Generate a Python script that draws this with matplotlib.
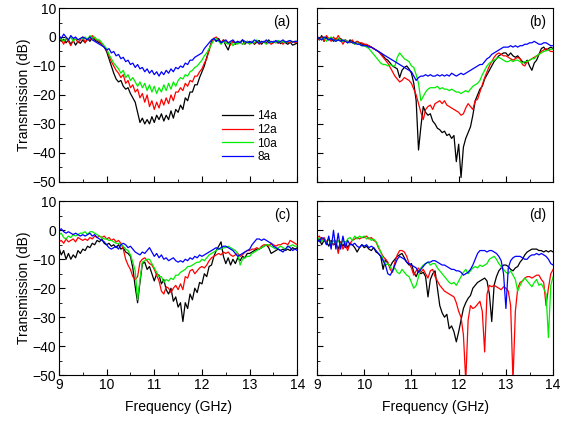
import matplotlib
matplotlib.use('Agg')
import matplotlib.pyplot as plt
import numpy as np

plt.rcParams['font.family'] = ['Liberation Sans', 'DejaVu Sans']

# frequency grid (GHz), 0.05 GHz steps
freq = np.linspace(9, 14, 101)
labels = ['14a', '12a', '10a', '8a']
colors = ['black', 'red', '#00ee00', 'blue']

# ---- panel (a) ----
a_14 = [-0.5, -1.5, -0.8, -2.0, -1.0, -2.5, -1.2, -2.8, -1.5, -2.2,
        -1.0, -2.0, -0.5, -1.5, -0.3, -1.0, -1.5, -2.0, -2.5, -3.5,
        -5.0, -7.5, -10.0, -12.5, -14.5, -15.5, -15.0, -17.0, -18.0, -17.5,
        -19.5, -21.0, -22.5, -26.0, -29.5, -28.0, -30.0, -28.5, -30.0, -27.5,
        -29.5, -27.0, -28.5, -26.5, -29.0, -27.0, -28.5, -25.5, -28.0, -25.0,
        -26.0, -23.5, -25.0, -21.0, -22.0, -19.0, -19.0, -16.5, -16.5, -14.0,
        -12.0, -10.0, -7.0, -4.5, -1.5, -0.5, -1.5, -0.5, -2.0, -1.0,
        -3.0, -4.5, -2.0, -1.5, -2.5, -1.5, -2.0, -1.0, -2.5, -1.5,
        -2.0, -1.5, -2.5, -1.8, -1.2, -2.5, -1.5, -2.0, -1.0, -2.2,
        -1.5, -2.0, -1.2, -2.3, -1.5, -2.0, -2.5, -1.8, -2.8, -2.5,
        -2.0]
a_12 = [-0.5, -1.0, -2.5, -0.5, -1.5, -3.0, -1.0, -0.5, -2.0, -1.0,
        0.0, -2.0, -0.5, -1.0, 0.5, -0.5, -1.0, -1.5, -2.5, -3.5,
        -4.5, -6.5, -8.5, -10.0, -11.5, -12.5, -14.0, -13.0, -16.0, -15.0,
        -17.5, -16.5, -19.0, -18.0, -21.0, -19.5, -22.5, -20.0, -24.0, -22.0,
        -25.0, -22.5, -24.5, -21.5, -23.5, -21.0, -23.0, -20.0, -22.0, -19.0,
        -19.0, -17.5, -18.5, -16.0, -17.0, -15.0, -15.5, -13.5, -13.5, -12.0,
        -11.0, -9.0, -7.5, -4.5, -2.0, -0.5, 0.0, -1.0, -2.0, -1.0,
        -1.5, -2.0, -2.8, -1.5, -2.5, -2.0, -1.5, -2.5, -2.0, -1.5,
        -2.5, -1.8, -2.2, -1.5, -2.5, -2.0, -1.5, -2.3, -1.8, -2.5,
        -2.0, -1.5, -2.2, -1.8, -2.5, -1.5, -2.0, -1.8, -1.5, -2.0,
        -1.5]
a_10 = [-1.0, -0.5, -1.5, -0.5, -1.0, 0.0, -1.5, -0.5, -1.0, -0.5,
        -0.5, 0.0, -1.0, 0.5, -0.5, 0.0, -1.0, -1.0, -2.0, -3.0,
        -4.0, -6.0, -7.5, -9.0, -10.0, -11.0, -12.5, -11.5, -14.0, -13.0,
        -15.0, -14.0, -15.5, -17.0, -15.5, -17.5, -16.0, -18.5, -16.5, -19.0,
        -17.0, -19.5, -17.5, -19.0, -16.5, -18.5, -16.0, -18.0, -15.5, -17.0,
        -15.0, -14.0, -14.5, -13.0, -13.5, -12.0, -11.5, -10.5, -10.0, -9.0,
        -8.0, -6.5, -5.5, -4.0, -2.5, -1.0, -0.5, -1.5, -2.5, -1.5,
        -2.0, -2.5, -1.5, -3.0, -2.0, -2.5, -1.5, -2.5, -2.0, -1.5,
        -2.5, -1.5, -2.0, -1.0, -2.2, -1.5, -1.8, -2.5, -1.5, -2.0,
        -1.5, -2.0, -1.2, -1.8, -1.5, -2.0, -1.5, -1.2, -1.8, -1.5,
        -1.5]
a_8 = [0.5, -0.5, 1.0, 0.0, -1.0, 0.5, -0.5, 0.0, -1.0, -0.5,
       0.0, -0.5, -1.0, 0.0, -1.0, -1.5, -2.0, -2.5, -3.0, -3.5,
       -4.5, -4.0, -5.5, -5.0, -6.5, -6.0, -7.5, -7.0, -8.5, -8.0,
       -9.5, -9.0, -10.5, -9.5, -11.0, -10.5, -12.0, -11.0, -12.5, -11.5,
       -13.0, -12.0, -13.5, -12.0, -13.0, -11.5, -12.5, -11.0, -12.0, -10.5,
       -11.0, -10.0, -10.5, -9.0, -9.5, -8.0, -8.0, -7.0, -6.5, -6.0,
       -5.5, -4.0, -3.0, -2.0, -1.0, -0.5, -1.5, -1.0, -2.0, -1.5,
       -1.0, -2.0, -1.5, -1.0, -2.0, -1.5, -2.0, -1.0, -1.5, -2.0,
       -1.5, -2.0, -1.0, -1.5, -2.2, -1.5, -1.8, -1.0, -2.0, -1.5,
       -1.8, -1.2, -2.0, -1.5, -1.0, -1.8, -1.5, -1.2, -1.8, -1.5,
       -1.5]

# ---- panel (b) ----
b_14 = [0.0, -1.0, 0.5, -1.5, 0.0, -1.0, -0.5, -1.5, -0.5, -1.0,
        -0.5, -1.5, -1.0, -2.0, -1.0, -1.5, -2.0, -1.5, -2.0, -2.5,
        -2.5, -3.0, -3.0, -3.5, -4.0, -4.5, -5.0, -5.5, -6.5, -7.5,
        -8.0, -9.0, -10.0, -10.5, -11.0, -14.0, -11.5, -10.5, -10.0, -11.0,
        -12.5, -16.0, -22.0, -39.0, -31.0, -24.0, -26.0, -27.0, -26.5, -29.0,
        -30.0, -31.5, -32.0, -33.0, -32.5, -34.0, -33.5, -35.0, -34.0, -43.0,
        -37.0, -48.5, -38.0, -35.0, -33.0, -31.0, -27.0, -22.0, -20.0, -18.0,
        -17.0, -14.5, -13.0, -11.5, -10.0, -8.5, -7.5, -6.5, -6.0, -5.5,
        -5.5, -6.5, -5.5, -6.5, -7.0, -6.5, -7.5, -8.5, -9.0, -8.0,
        -10.0, -11.5, -9.0, -8.0, -6.0, -4.0, -3.5, -4.5, -4.0, -3.5,
        -4.0]
b_12 = [0.5, -1.0, 0.0, -1.5, 0.5, -0.5, -1.5, 0.0, -1.0, 0.5,
        -1.0, -2.5, -1.0, -1.5, -2.0, -1.0, -2.5, -1.5, -2.0, -2.0,
        -2.5, -2.5, -3.0, -3.5, -4.0, -4.5, -5.0, -6.0, -7.0, -8.0,
        -9.0, -10.5, -12.0, -13.5, -14.5, -15.5, -15.0, -14.0, -14.5, -15.0,
        -16.0, -18.0, -20.0, -23.0, -26.0, -28.5, -25.0, -24.0, -23.5, -25.0,
        -23.0, -22.5, -22.0, -23.0, -22.0, -23.5, -24.0, -24.5, -25.0, -25.5,
        -26.0, -27.0, -26.5, -24.5, -23.0, -24.0, -25.0, -22.0, -21.5, -19.0,
        -16.5, -14.0, -12.0, -10.0, -8.5, -7.0, -6.0, -5.5, -6.0, -6.5,
        -6.5, -7.0, -7.5, -8.0, -7.5, -7.0, -7.5, -9.5, -10.0, -8.5,
        -8.0, -7.5, -7.0, -6.5, -6.0, -5.0, -4.5, -4.0, -4.5, -5.0,
        -5.0]
b_10 = [0.0, -0.5, -1.0, 0.0, -1.5, -0.5, 0.0, -1.0, -1.5, -0.5,
        -1.0, -1.5, -1.0, -2.0, -1.5, -2.0, -2.5, -2.0, -2.5, -3.0,
        -3.0, -3.5, -4.0, -5.0, -6.0, -7.0, -8.0, -9.0, -9.5, -9.5,
        -10.0, -9.5, -10.0, -10.0, -7.0, -5.5, -6.5, -7.5, -8.0, -8.5,
        -10.0, -10.5, -13.0, -16.0, -22.0, -20.5, -19.0, -18.0, -17.5, -17.5,
        -17.5, -17.0, -18.0, -17.5, -18.0, -18.0, -18.5, -18.0, -18.5, -19.0,
        -19.0, -19.5, -19.0, -18.5, -19.0, -18.0, -17.0, -16.5, -16.0, -15.0,
        -13.0, -11.5, -10.0, -9.0, -8.5, -8.0, -7.5, -7.0, -7.5, -8.0,
        -8.5, -8.5, -8.0, -8.5, -8.0, -8.0, -8.5, -9.0, -8.5, -8.5,
        -8.0, -7.5, -7.5, -6.5, -6.0, -5.5, -5.0, -4.8, -4.5, -4.2,
        -4.2]
b_8 = [0.0, -0.5, -1.0, 0.0, -0.5, -1.0, -0.5, -1.0, -1.5, -1.0,
       -1.5, -1.0, -1.5, -2.0, -1.5, -2.0, -2.0, -2.5, -2.5, -3.0,
       -3.0, -3.0, -3.5, -3.5, -4.0, -4.5, -5.0, -5.5, -6.0, -6.5,
       -7.0, -7.5, -8.0, -8.5, -9.0, -9.5, -10.0, -10.5, -11.0, -11.5,
       -12.0, -13.5, -15.0, -14.0, -13.5, -13.5, -13.0, -13.5, -13.0, -13.5,
       -13.5, -13.0, -13.5, -13.0, -13.5, -13.0, -13.5, -12.5, -13.0, -13.5,
       -13.0, -12.5, -13.0, -12.5, -12.0, -11.5, -11.0, -10.5, -10.0, -9.5,
       -9.5, -8.5, -7.5, -7.0, -6.0, -5.5, -5.0, -4.5, -4.0, -3.5,
       -3.5, -3.5, -3.0, -3.5, -3.0, -3.5, -3.0, -3.0, -2.5, -2.5,
       -2.0, -2.0, -1.5, -2.0, -2.5, -2.5, -2.0, -2.0, -2.5, -3.0,
       -3.0]

# ---- panel (c) ----
c_14 = [-6.0, -8.5, -7.0, -10.0, -8.0, -10.0, -8.5, -9.5, -7.0, -8.0,
        -6.5, -7.0, -5.5, -6.0, -4.5, -5.0, -3.5, -4.0, -3.0, -4.5,
        -5.0, -4.5, -5.5, -5.0, -6.0, -5.0, -6.5, -6.0, -7.5, -8.0,
        -9.0, -13.0, -19.5, -25.0, -18.0, -11.5, -11.0, -13.5, -12.5, -15.0,
        -17.5, -15.0, -15.5, -18.5, -17.0, -20.5, -22.0, -20.0, -24.5, -23.0,
        -26.5, -25.0, -31.5, -25.0, -27.0, -22.0, -24.0, -20.0, -21.5, -18.0,
        -18.5, -15.0, -16.0, -12.5, -12.0, -9.0, -7.0, -5.5, -4.0, -9.0,
        -11.5, -9.5, -12.0, -10.0, -11.5, -9.5, -10.5, -9.0, -9.5, -8.0,
        -8.0, -7.5, -7.0, -6.5, -6.5, -6.0, -5.5, -5.0, -6.0, -8.0,
        -7.5, -7.0, -6.5, -7.0, -6.5, -7.0, -6.5, -7.0, -6.0, -6.5,
        -6.0]
c_12 = [-4.0, -3.5, -4.5, -3.0, -4.0, -3.5, -3.0, -4.0, -2.5, -3.0,
        -3.5, -3.0, -3.5, -2.5, -3.0, -2.0, -2.5, -2.0, -2.5, -2.0,
        -3.0, -2.5, -3.5, -3.0, -4.0, -3.5, -4.5, -6.5, -10.0, -12.0,
        -13.5, -16.0, -17.0, -16.0, -11.0, -10.0, -9.5, -10.5, -11.5, -12.0,
        -13.5, -15.5, -17.5, -21.0, -22.0, -19.5, -20.0, -21.5, -20.0, -19.0,
        -20.5, -18.5, -20.5, -16.0, -16.5, -14.0, -13.5, -15.0, -14.0, -13.0,
        -12.5, -13.0, -12.0, -10.5, -9.5, -9.0, -8.5, -8.0, -8.5, -7.5,
        -8.0, -7.5, -8.5, -9.0, -8.5, -8.0, -9.0, -8.5, -7.5, -7.0,
        -7.0, -6.5, -6.5, -6.0, -6.5, -5.5, -5.0, -5.0, -5.5, -4.5,
        -5.0, -5.5, -5.0, -5.0, -4.5, -4.5, -5.0, -3.5, -4.0, -4.5,
        -5.0]
c_10 = [-1.5, -1.0, -2.5, -3.0, -2.0, -2.5, -1.5, -2.0, -1.5, -1.0,
        -1.0, -0.5, -1.5, -0.5, -0.5, -1.0, -1.5, -2.0, -2.5, -3.0,
        -3.0, -3.5, -3.5, -4.0, -4.5, -4.5, -5.0, -5.5, -6.5, -7.0,
        -8.5, -11.0, -14.0, -24.0, -17.0, -11.0, -10.5, -10.0, -10.0, -11.5,
        -13.0, -14.5, -16.0, -16.0, -18.0, -17.0, -17.5, -16.5, -17.0, -15.5,
        -15.5, -14.5, -14.0, -13.5, -12.5, -12.5, -12.0, -11.5, -11.0, -11.0,
        -10.0, -10.5, -9.5, -8.5, -8.0, -7.5, -7.0, -6.5, -6.5, -6.0,
        -6.0, -5.5, -6.0, -6.5, -7.0, -8.0, -12.0, -10.0, -9.5, -9.0,
        -9.0, -8.0, -7.5, -7.0, -6.5, -6.0, -5.5, -5.0, -5.0, -5.5,
        -6.0, -6.5, -6.0, -5.5, -6.0, -6.5, -5.5, -5.5, -5.0, -5.5,
        -5.5]
c_8 = [0.0, 0.5, -0.5, -1.0, -0.5, -1.0, -1.5, -1.0, -1.5, -2.0,
       -1.5, -2.0, -1.5, -1.0, -2.0, -1.5, -2.5, -3.0, -3.5, -4.0,
       -5.0, -6.0, -6.5, -6.0, -5.5, -6.5, -5.0, -4.5, -5.0, -6.0,
       -5.5, -6.5, -7.5, -8.0, -8.5, -7.5, -8.0, -7.0, -6.0, -7.5,
       -9.0, -8.0, -9.5, -8.5, -10.0, -9.5, -10.5, -10.0, -9.5, -10.5,
       -11.0, -10.5, -11.0, -10.0, -10.5, -9.5, -10.0, -9.0, -9.5, -8.5,
       -9.0, -8.5, -8.0, -7.5, -7.0, -6.5, -6.0, -6.5, -6.0, -5.5,
       -5.5, -6.0, -6.5, -7.0, -8.0, -9.0, -8.5, -8.0, -7.5, -7.0,
       -6.5, -5.0, -4.0, -3.0, -3.0, -3.5, -3.0, -3.5, -4.0, -4.5,
       -5.5, -6.0, -6.5, -7.0, -7.5, -6.5, -5.5, -6.0, -7.0, -6.5,
       -7.0]

# ---- panel (d) ----
d_14 = [-4.0, -3.0, -5.0, -3.5, -4.0, -5.5, -3.5, -5.0, -4.5, -6.5,
        -4.0, -5.5, -4.0, -6.0, -4.5, -5.0, -6.0, -7.5, -6.0, -5.0,
        -6.0, -5.5, -6.5, -7.0, -6.0, -7.5, -8.0, -9.0, -13.5, -10.0,
        -11.5, -12.5, -11.0, -10.0, -9.0, -8.5, -8.0, -9.5, -11.0, -12.0,
        -11.5, -14.5, -16.0, -14.0, -15.0, -14.5, -16.0, -23.0, -17.0, -15.0,
        -14.0, -20.0, -26.0, -28.5, -30.0, -29.0, -34.0, -33.0, -35.0, -38.5,
        -35.0, -31.0, -27.0, -25.0, -23.5, -22.5, -20.0, -19.0, -18.0, -17.5,
        -17.0, -16.5, -17.5, -22.0, -31.5, -19.0, -16.0, -14.0, -13.0, -12.0,
        -12.0, -12.5, -13.5, -14.0, -13.0, -12.5, -11.0, -10.0, -8.5, -7.5,
        -7.0, -6.5, -6.5, -6.5, -7.0, -7.0, -7.5, -7.0, -7.5, -7.0,
        -7.5]
d_12 = [-2.5, -2.0, -3.5, -2.5, -4.0, -3.0, -4.5, -5.0, -3.5, -8.0,
        -4.0, -6.5, -5.0, -7.0, -4.5, -3.5, -3.0, -2.5, -3.0, -2.5,
        -2.5, -2.0, -3.0, -2.5, -3.5, -4.0, -6.0, -7.5, -9.0, -10.0,
        -11.0, -13.5, -14.5, -11.0, -8.5, -7.0, -7.0, -7.5, -9.0, -11.5,
        -13.0, -15.5, -14.0, -13.0, -14.5, -13.5, -15.0, -16.5, -14.0, -13.5,
        -16.0, -17.5, -19.0, -20.0, -21.0, -21.5, -22.0, -22.5, -23.0, -25.0,
        -28.0, -30.0, -36.0, -52.0, -31.0, -26.0, -27.0, -26.5, -25.5, -24.5,
        -28.0, -42.0, -22.0, -19.0, -19.5, -19.0, -19.5, -20.0, -20.5, -19.5,
        -20.0, -21.0, -26.0, -52.0, -28.0, -20.0, -18.0, -17.5, -16.5, -16.0,
        -16.0, -16.5, -16.0, -15.5, -15.5, -17.0, -18.0, -26.0, -20.0, -15.0,
        -13.5]
d_10 = [-3.5, -2.5, -4.0, -3.0, -4.5, -3.0, -5.0, -3.5, -4.5, -3.5,
        -5.0, -3.5, -4.5, -3.0, -2.5, -3.5, -2.0, -3.0, -2.0, -2.5,
        -2.0, -3.0, -2.5, -3.5, -3.0, -4.0, -5.5, -7.5, -10.0, -12.0,
        -11.5, -12.5, -14.0, -13.0, -14.5, -15.0, -13.5, -14.5, -15.5, -16.0,
        -18.0, -20.0, -19.0, -16.0, -13.0, -12.0, -11.5, -11.0, -12.0, -11.5,
        -11.5, -13.0, -14.0, -15.0, -16.0, -17.0, -18.0, -18.5, -18.0, -19.0,
        -17.5, -16.0, -14.5, -13.5, -15.0, -14.0, -13.0, -12.5, -13.0, -12.0,
        -12.5, -12.0, -11.5, -10.0, -9.5, -9.0, -10.0, -11.5, -12.5, -13.5,
        -14.5, -15.0, -14.0, -15.5, -17.0, -21.0, -19.0, -17.5, -16.5, -17.5,
        -18.5, -19.5, -18.0, -17.0, -19.0, -18.5, -20.0, -22.0, -37.0, -19.0,
        -16.0]
d_8 = [-3.0, -4.0, -2.5, -3.0, -5.0, -2.0, -6.5, 0.0, -6.5, -1.0,
       -6.5, -2.0, -6.0, -3.5, -5.0, -5.0, -4.5, -5.5, -6.0, -5.0,
       -5.5, -5.0, -6.0, -5.5, -6.0, -7.0, -8.0, -9.0, -10.5, -12.0,
       -15.0, -15.5, -14.0, -12.0, -10.0, -9.0, -9.5, -10.0, -11.0, -11.5,
       -12.0, -12.5, -13.0, -14.5, -13.5, -12.5, -11.5, -11.0, -11.0, -10.5,
       -10.5, -11.0, -11.5, -12.0, -12.0, -12.5, -13.0, -13.5, -13.5, -14.0,
       -14.0, -14.5, -15.5, -15.0, -14.5, -13.5, -12.0, -10.0, -8.0, -7.0,
       -7.0, -7.0, -7.5, -7.0, -7.0, -7.5, -8.0, -9.0, -10.5, -15.0,
       -27.0, -13.0, -10.5, -9.5, -9.0, -9.0, -9.0, -9.5, -10.0, -10.0,
       -9.0, -8.5, -8.5, -8.0, -8.5, -8.0, -8.5, -9.0, -10.0, -11.5,
       -12.0]

panels = [('(a)', [a_14, a_12, a_10, a_8]),
          ('(b)', [b_14, b_12, b_10, b_8]),
          ('(c)', [c_14, c_12, c_10, c_8]),
          ('(d)', [d_14, d_12, d_10, d_8])]

fig = plt.figure(figsize=(5.61, 4.22), dpi=100)
lefts = [0.105, 0.565]
widths = [0.425, 0.421]
bottoms = [0.569, 0.111]
height = 0.412

for i, (tag, series) in enumerate(panels):
    row, col = divmod(i, 2)
    ax = fig.add_axes([lefts[col], bottoms[row], widths[col], height])
    for s, c, lab in zip(series, colors, labels):
        ax.plot(freq, s, color=c, lw=0.9, label=lab)
    ax.set_xlim(9, 14)
    ax.set_ylim(-50, 10)
    ax.set_xticks(np.arange(9, 14.1, 1))
    ax.set_xticks(np.arange(9.5, 14, 1), minor=True)
    ax.set_yticks(np.arange(-50, 11, 10))
    ax.set_yticks(np.arange(-45, 10, 10), minor=True)
    ax.tick_params(which='both', direction='in', top=False, right=False,
                   labelsize=10, pad=2)
    ax.tick_params(which='major', length=4)
    ax.tick_params(which='minor', length=2)
    ax.text(0.97, 0.92, tag, transform=ax.transAxes, ha='right', va='center',
            fontsize=10)
    if col == 0:
        ax.set_ylabel('Transmission (dB)', fontsize=10, labelpad=1)
    else:
        ax.set_yticklabels([])
    if row == 1:
        ax.set_xlabel('Frequency (GHz)', fontsize=10, labelpad=6)
    else:
        ax.set_xticklabels([])
    if i == 0:
        ax.legend(loc='center right', bbox_to_anchor=(0.96, 0.26),
                  frameon=False, fontsize=8.5, handlelength=2.6,
                  labelspacing=0.15, handletextpad=0.4)

fig.savefig('out.png', dpi=100)
